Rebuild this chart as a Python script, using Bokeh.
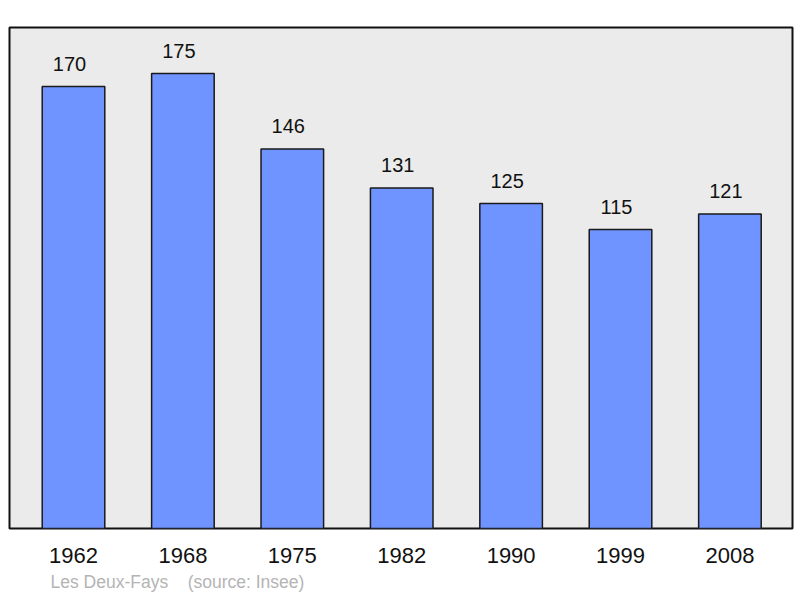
from bokeh.plotting import figure
from bokeh.models import ColumnDataSource, Range1d, FixedTicker, Title
from bokeh.embed import file_html
from bokeh.resources import INLINE
from bokeh.core.properties import value

years = ["1962", "1968", "1975", "1982", "1990", "1999", "2008"]
population = [170, 175, 146, 131, 125, 115, 121]
commune = "Les Deux-Fays"
source = "(source: Insee)"

idx = list(range(len(years)))
src = ColumnDataSource(dict(x=idx, top=population, label=[str(v) for v in population]))

p = figure(width=800, height=598, output_backend="svg", toolbar_location=None,
           x_range=Range1d(-0.585, 6.572), y_range=Range1d(0, 192.7),
           min_border_left=9, min_border_right=8, min_border_top=27, min_border_bottom=70)
p.background_fill_color = "#ebebeb"
p.border_fill_color = "white"
p.outline_line_color = "#111111"
p.outline_line_width = 2
p.grid.visible = False
p.yaxis.visible = False

p.vbar(x="x", top="top", bottom=0, width=0.572, source=src,
       fill_color="#7094ff", line_color="#1a1a1a", line_width=1.5)
p.text(x="x", y="top", text="label", source=src, y_offset=-23, x_offset=-4,
       text_align="center", text_baseline="alphabetic",
       text_font=value("Liberation Sans"), text_font_size="20px", text_color="#111111")

ax = p.xaxis[0]
ax.ticker = FixedTicker(ticks=idx)
ax.major_label_overrides = {i: y for i, y in zip(idx, years)}
ax.axis_line_color = None
ax.major_tick_line_color = None
ax.minor_tick_line_color = None
ax.major_tick_out = 0
ax.major_tick_in = 0
ax.major_label_standoff = 19
ax.major_label_text_font = "Liberation Sans"
ax.major_label_text_font_size = "22px"
ax.major_label_text_color = "#111111"

p.add_layout(Title(text=commune + "\u00a0\u00a0\u00a0\u00a0" + source, align="left",
                   offset=41, standoff=9, text_font="Liberation Sans",
                   text_font_size="17.5px", text_font_style="normal",
                   text_color="#b4b4b4"), "below")

open("out.html", "w").write(file_html(p, INLINE))
